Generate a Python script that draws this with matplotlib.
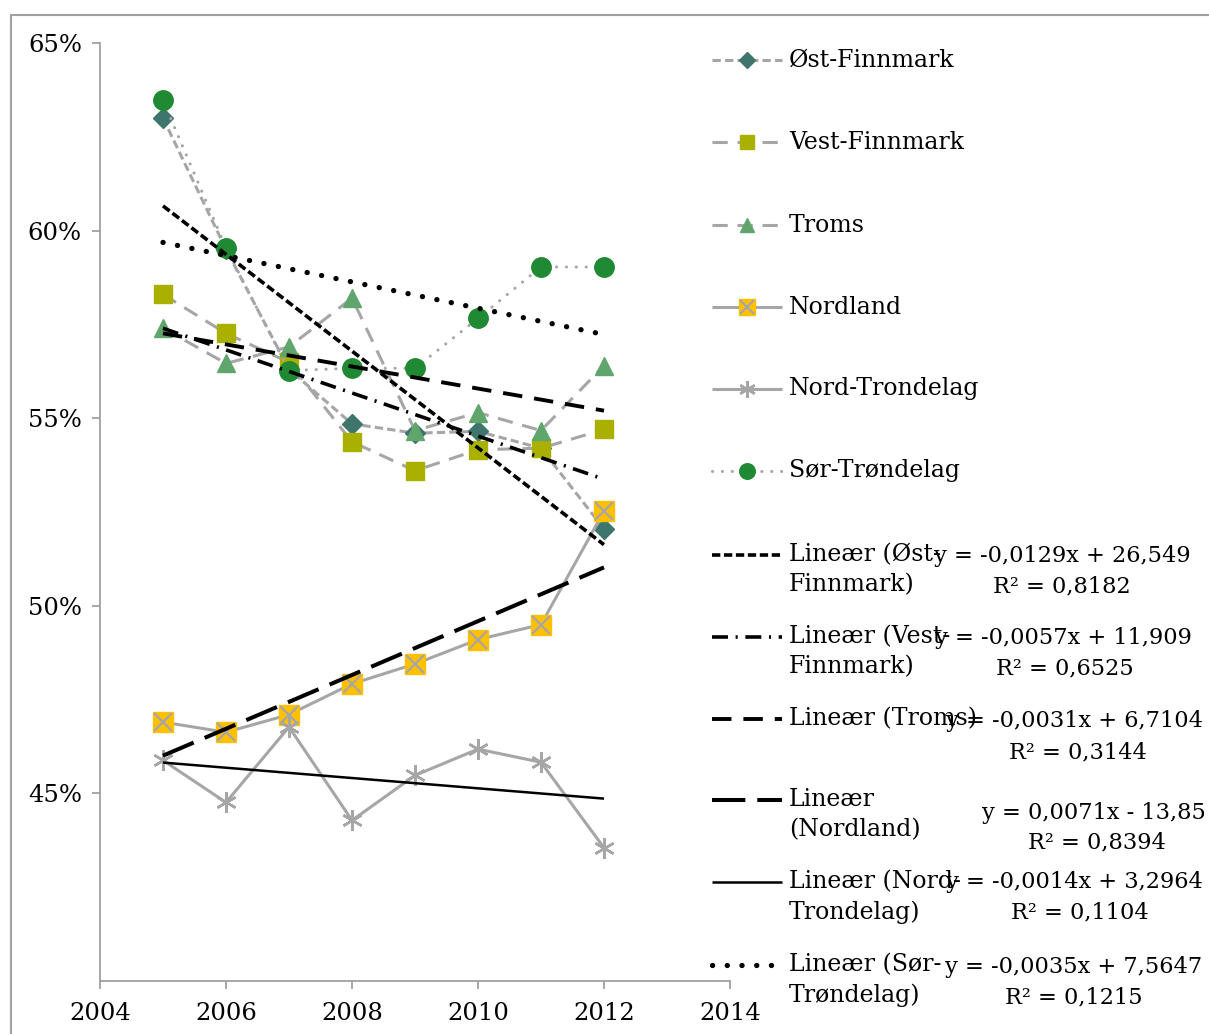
import numpy as np
import matplotlib
matplotlib.use("Agg")
import matplotlib.pyplot as plt
from matplotlib.lines import Line2D
from matplotlib.patches import Rectangle
from matplotlib.ticker import FuncFormatter

plt.rcParams['font.family'] = ['DejaVu Serif']
plt.rcParams['lines.scale_dashes'] = False

# data (share of ..., in percent)
years = [2005, 2006, 2007, 2008, 2009, 2010, 2011, 2012]
ost_finnmark = [63.0, 59.5, 56.3, 54.85, 54.6, 54.65, 54.2, 52.05]
vest_finnmark = [58.3, 57.26, 56.49, 54.37, 53.6, 54.16, 54.2, 54.7]
troms = [57.4, 56.46, 56.9, 58.2, 54.67, 55.15, 54.67, 56.4]
nordland = [46.9, 46.63, 47.1, 47.92, 48.45, 49.1, 49.5, 52.52]
nord_trondelag = [45.88, 44.76, 46.77, 44.28, 45.48, 46.18, 45.83, 43.55]
sor_trondelag = [63.47, 59.54, 56.27, 56.33, 56.33, 57.66, 59.03, 59.03]

series_names = ["Øst-Finnmark", "Vest-Finnmark", "Troms", "Nordland",
                "Nord-Trondelag", "Sør-Trøndelag"]
trend_labels = [["Lineær (Øst-", "Finnmark)"],
                ["Lineær (Vest-", "Finnmark)"],
                ["Lineær (Troms)"],
                ["Lineær", "(Nordland)"],
                ["Lineær (Nord-", "Trondelag)"],
                ["Lineær (Sør-", "Trøndelag)"]]
equations = ["y = -0,0129x + 26,549", "y = -0,0057x + 11,909",
             "y = -0,0031x + 6,7104", "y = 0,0071x - 13,85",
             "y = -0,0014x + 3,2964", "y = -0,0035x + 7,5647"]
r_squared = ["R² = 0,8182", "R² = 0,6525", "R² = 0,3144", "R² = 0,8394",
             "R² = 0,1104", "R² = 0,1215"]

W, H = 1209, 1034
GRAY = '#a6a6a6'

def fx(px):
    return px / W

def fy(py):
    return 1 - py / H

# style for each series: line dashes, marker, marker color, marker size
series_style = [
    dict(dashes=(6, 3), marker='D', mfc='#3e756c', ms=10),
    dict(dashes=(11, 7), marker='s', mfc='#a9b000', ms=13),
    dict(dashes=(11, 7), marker='^', mfc='#5fa56c', ms=13),
    dict(dashes=None, marker='s', mfc='#ffc000', ms=15),
    dict(dashes=None, marker=(6, 2, 0), mfc=GRAY, ms=15),
    dict(dashes=(0.1, 7), marker='o', mfc='#1f8a33', ms=14),
]
trend_style = [
    dict(dashes=(6, 2.6), lw=2.6),
    dict(dashes=(11.5, 5.5, 1.5, 5.5), lw=2.6),
    dict(dashes=(14, 8.6), lw=2.8),
    dict(dashes=(24, 8.6), lw=2.9),
    dict(dashes=None, lw=1.8),
    dict(dashes=(0.1, 10.5), lw=3.8),
]

fig = plt.figure(figsize=(W / 100, H / 100), dpi=100)
ax = fig.add_axes([fx(100), fy(981), fx(730) - fx(100), fy(43) - fy(981)])

all_data = [ost_finnmark, vest_finnmark, troms, nordland, nord_trondelag, sor_trondelag]


def capstyle(dashes):
    return 'round' if dashes and dashes[0] < 1 else 'butt'


def draw_series(target, xs, ys, st, transform=None, markevery=None, scale=1.0):
    kw = {}
    if transform is not None:
        kw['transform'] = transform
    ms = st['ms'] * scale
    line = Line2D(xs, ys, color=GRAY, lw=2.2, marker=st['marker'],
                  markerfacecolor=st['mfc'], markeredgecolor=st['mfc'],
                  markersize=ms, markevery=markevery,
                  solid_capstyle='butt', dash_capstyle=capstyle(st['dashes']),
                  zorder=2, **kw)
    if st['dashes']:
        line.set_dashes(st['dashes'])
    if st['marker'] == (6, 2, 0):
        line.set_markeredgewidth(1.8)
    if transform is not None:
        target.add_artist(line)
    else:
        target.add_line(line)
    # nordland marker has a gray cross on top
    if st['mfc'] == '#ffc000':
        cross = Line2D(xs, ys, linestyle='none', marker='x', markersize=ms * 0.85,
                       markeredgecolor=GRAY, markeredgewidth=1.6, markevery=markevery,
                       zorder=2.1, **kw)
        if transform is not None:
            target.add_artist(cross)
        else:
            target.add_line(cross)


for ys, st in zip(all_data, series_style):
    draw_series(ax, years, ys, st)

# linear trend lines
x = np.array(years, dtype=float)
for ys, st in zip(all_data, trend_style):
    k, m = np.polyfit(x, ys, 1)
    ends = np.array([x[0], x[-1]])
    line, = ax.plot(ends, k * ends + m, color='black', lw=st['lw'], zorder=3,
                    solid_capstyle='butt', dash_capstyle=capstyle(st['dashes']))
    if st['dashes']:
        line.set_dashes(st['dashes'])

ax.set_xlim(2004, 2014)
ax.set_ylim(40, 65)
ax.set_xticks([2004, 2006, 2008, 2010, 2012, 2014])
ax.set_yticks([45, 50, 55, 60, 65])
ax.yaxis.set_major_formatter(FuncFormatter(lambda v, p: f"{v:.0f}%"))
for s in ['top', 'right']:
    ax.spines[s].set_visible(False)
for s in ['left', 'bottom']:
    ax.spines[s].set_color('#a0a0a0')
    ax.spines[s].set_linewidth(1.3)
ax.tick_params(axis='both', colors='#a0a0a0', labelcolor='black', labelsize=17.5,
               length=6, width=1.3, direction='out')
ax.tick_params(axis='x', pad=9)
ax.tick_params(axis='y', pad=7)

# legend, drawn by hand to follow the original spacing
leg_rows = [60, 142, 225, 307, 389, 471]
for row, name, st in zip(leg_rows, series_names, series_style):
    draw_series(fig, [fx(712), fx(747), fx(782)], [fy(row)] * 3, st,
                transform=fig.transFigure, markevery=[1], scale=0.8)
    fig.text(fx(789), fy(row), name, fontsize=17, va='center', ha='left')

trend_rows = [555, 637, 719, 800, 882, 965]
for row, lab, st in zip(trend_rows, trend_labels, trend_style):
    line = Line2D([fx(712), fx(782)], [fy(row)] * 2, transform=fig.transFigure,
                  color='black', lw=st['lw'], solid_capstyle='butt',
                  dash_capstyle=capstyle(st['dashes']))
    if st['dashes']:
        line.set_dashes(st['dashes'])
    fig.add_artist(line)
    for i, part in enumerate(lab):
        fig.text(fx(789), fy(row + 30 * i), part, fontsize=17, va='center', ha='left')

# trendline equations
eq_pos = [(1062, 556, 1062, 586), (1063, 638, 1065, 668), (1074, 721, 1078, 752),
          (1094, 813, 1097, 842), (1074, 882, 1080, 912), (1074, 967, 1074, 997)]
for (ex, ey, rx, ry), eq, r2 in zip(eq_pos, equations, r_squared):
    fig.text(fx(ex), fy(ey), eq, fontsize=16.2, va='center', ha='center')
    fig.text(fx(rx), fy(ry), r2, fontsize=16.2, va='center', ha='center')

# outer frame of the chart
fig.add_artist(Rectangle((fx(11), fy(1100)), fx(1300), fy(15) - fy(1100),
                         transform=fig.transFigure, fill=False,
                         edgecolor='#a0a0a0', lw=1.5))

fig.savefig("out.png", dpi=100)
